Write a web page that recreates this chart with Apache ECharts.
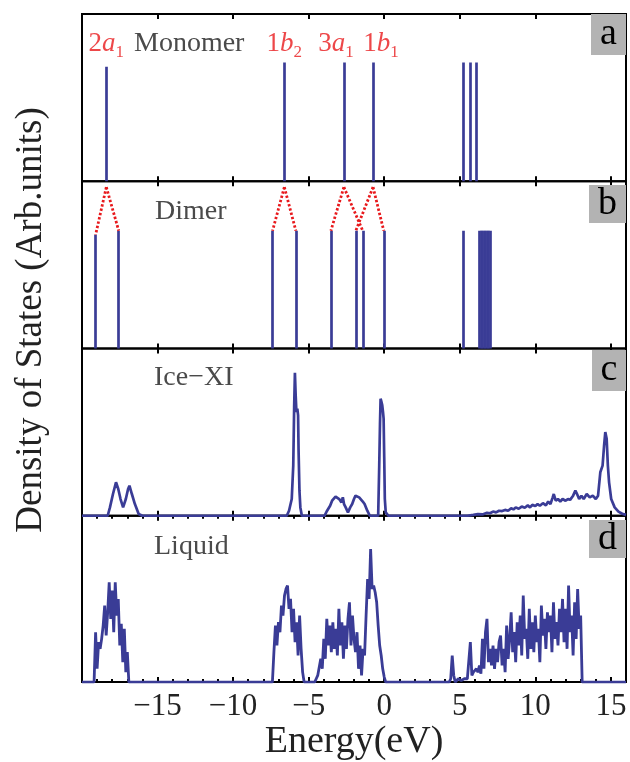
<!DOCTYPE html>
<html>
<head>
<meta charset="utf-8">
<script src="https://cdn.jsdelivr.net/npm/echarts@6/dist/echarts.min.js"></script>
<style>
  html, body { margin: 0; padding: 0; background: #fff; }
  #main { width: 630px; height: 762px; }
</style>
</head>
<body>
<div id="main"></div>
<script>
// monomer levels (eV) and stick heights
const monomerE = [-18.39, -6.61, -2.67, -0.74, 5.25, 5.66, 6.07];
const monomerH = [0.684, 0.71, 0.71, 0.71, 0.71, 0.71, 0.71];
// orbital labels of the four occupied monomer levels
const orbitalNum = ['2', '1', '3', '1'];
const orbitalSym = ['a', 'b', 'a', 'b'];
const orbitalSub = ['1', '2', '1', '1'];
// dimer levels (eV) and stick heights
const dimerE = [-19.1, -17.57, -7.39, -5.85, -3.53, -1.88, -1.42, -0.03, 5.25,
    6.28, 6.4, 6.5, 6.6, 6.7, 6.8, 6.9, 7.0];
const dimerH = [0.68, 0.704, 0.704, 0.704, 0.704, 0.704, 0.704, 0.704, 0.704,
    0.704, 0.704, 0.704, 0.704, 0.704, 0.704, 0.704, 0.704];
// which monomer level splits into which dimer levels (index pairs)
const splitFrom = [0, 0, 1, 1, 2, 2, 3, 3];
const splitTo = [0, 1, 2, 3, 4, 6, 5, 7];
const splitPeak = 0.965;

// Ice-XI DOS [energy, dos]
const iceXI = [
    [-20, 0], [-18.3, 0], [-18.15, 0.05], [-17.95, 0.13], [-17.75, 0.2], [-17.6, 0.16],
    [-17.45, 0.1], [-17.28, 0.05], [-17.1, 0.1], [-16.95, 0.16], [-16.86, 0.18], [-16.7, 0.13],
    [-16.5, 0.07], [-16.25, 0.01], [-16.0, 0],
    [-6.45, 0], [-6.3, 0.03], [-6.12, 0.1], [-6.02, 0.3], [-5.96, 0.65], [-5.91, 0.855],
    [-5.86, 0.72], [-5.81, 0.62], [-5.75, 0.64], [-5.7, 0.6], [-5.67, 0.4], [-5.61, 0.15],
    [-5.55, 0.05], [-5.45, 0],
    [-3.95, 0], [-3.78, 0.03], [-3.58, 0.06], [-3.45, 0.09], [-3.34, 0.1], [-3.22, 0.115],
    [-3.1, 0.11], [-2.98, 0.1], [-2.9, 0.11], [-2.83, 0.08], [-2.74, 0.11], [-2.66, 0.07],
    [-2.55, 0.05], [-2.4, 0.02], [-2.25, 0.05], [-2.12, 0.07], [-2.0, 0.1], [-1.9, 0.12],
    [-1.78, 0.125], [-1.66, 0.11], [-1.54, 0.1], [-1.42, 0.085], [-1.3, 0.07], [-1.12, 0.03],
    [-0.95, 0],
    [-0.4, 0], [-0.33, 0.3], [-0.28, 0.55], [-0.24, 0.7], [-0.18, 0.68], [-0.13, 0.66],
    [-0.08, 0.62], [-0.04, 0.58], [0.0, 0.35], [0.04, 0.1], [0.1, 0.02], [0.28, 0],
    [5.5, 0], [5.9, 0.005], [6.2, 0.01], [6.5, 0.008], [6.8, 0.018], [7.0, 0.015],
    [7.2, 0.025], [7.4, 0.02], [7.6, 0.03], [7.8, 0.028], [8.0, 0.035], [8.2, 0.03],
    [8.4, 0.045], [8.55, 0.038], [8.7, 0.05], [8.9, 0.042], [9.1, 0.055], [9.3, 0.048],
    [9.5, 0.062], [9.65, 0.05], [9.8, 0.065], [10.0, 0.058], [10.15, 0.07], [10.3, 0.06],
    [10.5, 0.075], [10.7, 0.062], [10.85, 0.085], [11.0, 0.07], [11.15, 0.11], [11.22, 0.13],
    [11.35, 0.09], [11.5, 0.1], [11.65, 0.085], [11.8, 0.1], [12.0, 0.09], [12.16, 0.1],
    [12.3, 0.095], [12.5, 0.12], [12.65, 0.15], [12.76, 0.13], [12.9, 0.1], [13.05, 0.12],
    [13.2, 0.1], [13.4, 0.13], [13.6, 0.11], [13.8, 0.12], [14.0, 0.1], [14.15, 0.12],
    [14.3, 0.26], [14.45, 0.3], [14.55, 0.42], [14.63, 0.5], [14.72, 0.46], [14.8, 0.3],
    [14.88, 0.2], [15.02, 0.1], [15.25, 0.05], [15.5, 0.025], [15.75, 0.012], [16, 0.005]
];

// Liquid DOS: blocks sampled every 0.1 eV from the given start energy
const liqStep = 0.1;
const liq1Start = -19.2;
const liq1 = [0.0, 0.30, 0.08, 0.24, 0.20, 0.26, 0.34, 0.46, 0.28, 0.42, 0.60, 0.38,
    0.55, 0.30, 0.60, 0.40, 0.50, 0.22, 0.35, 0.12, 0.32, 0.06, 0.18, 0.0];
const liq2Start = -7.4;
const liq2 = [0.0, 0.18, 0.34, 0.22, 0.36, 0.30, 0.46, 0.40, 0.52, 0.56, 0.58, 0.44,
    0.50, 0.30, 0.44, 0.24, 0.36, 0.16, 0.40, 0.20, 0.06, 0.0];
const liq3Start = -4.6;
const liq3 = [0.0, 0.02, 0.04, 0.03, 0.14, 0.08, 0.26, 0.14, 0.38, 0.22, 0.34, 0.18,
    0.36, 0.20, 0.32, 0.16, 0.44, 0.22, 0.36, 0.14, 0.34, 0.20, 0.38, 0.48, 0.22, 0.40,
    0.26, 0.18, 0.30, 0.08, 0.22, 0.04, 0.20, 0.16, 0.40, 0.62, 0.50, 0.80, 0.56, 0.58,
    0.54, 0.48, 0.34, 0.22, 0.16, 0.08, 0.03, 0.0];
const liq4Start = 4.3;
const liq4 = [0.0, 0.02, 0.16, 0.04, 0.0, 0.01, 0.02, 0.02, 0.01, 0.02, 0.02, 0.01, 0.02,
    0.02, 0.24, 0.04, 0.06, 0.05, 0.08, 0.06, 0.10, 0.05, 0.26, 0.08, 0.30, 0.38, 0.12,
    0.20, 0.10, 0.22, 0.08, 0.20, 0.12, 0.24, 0.28, 0.10, 0.20, 0.06, 0.34, 0.14, 0.26,
    0.42, 0.18, 0.30, 0.12, 0.36, 0.22, 0.40, 0.16, 0.52, 0.26, 0.32, 0.14, 0.44, 0.20,
    0.36, 0.18, 0.40, 0.24, 0.32, 0.12, 0.46, 0.28, 0.38, 0.20, 0.42, 0.30, 0.40, 0.18,
    0.48, 0.26, 0.36, 0.22, 0.44, 0.30, 0.50, 0.24, 0.44, 0.20, 0.58, 0.30, 0.40, 0.16,
    0.48, 0.26, 0.56, 0.32, 0.40, 0.0];

const panelNames = ['Monomer', 'Dimer', 'Ice\u2212XI', 'Liquid'];
const panelTags = ['a', 'b', 'c', 'd'];

const BLUE = '#3a3c96';
const RED = '#e8191c';
const FONT = '"Liberation Serif", "DejaVu Serif", serif';

function blockPairs(start, vals) {
    return vals.map((v, i) => [+(start + i * liqStep).toFixed(2), v]);
}
const liquid = [[-20, 0]]
    .concat(blockPairs(liq1Start, liq1), blockPairs(liq2Start, liq2),
        blockPairs(liq3Start, liq3), blockPairs(liq4Start, liq4), [[16, 0]]);

function sticks(es, hs) {
    return es.map((e, i) => ({ coords: [[e, 0], [e, hs[i]]] }));
}
const splitLines = splitFrom.map((m, k) => ({
    coords: [[monomerE[m], splitPeak], [dimerE[splitTo[k]], dimerH[splitTo[k]]]]
}));

const labelShift = [0, 0, -8, 8];
const orbitalLabels = orbitalNum.map((n, i) => ({
    value: [monomerE[i], 0.82],
    label: {
        offset: [labelShift[i], 0],
        formatter: `{n|${n}}{i|${orbitalSym[i]}}{s|${orbitalSub[i]}}`
    }
}));

let myChart = echarts.init(document.getElementById('main'), null, { renderer: 'canvas' });

const top0 = 14, ph = 167.25;
let grids = [], xAxes = [], yAxes = [];
for (let i = 0; i < 4; i++) {
    grids.push({
        left: 82, width: 544, top: top0 + i * ph, height: ph,
        show: true, borderColor: '#000', borderWidth: 2
    });
    let minor = i === 3;
    ['bottom', 'top'].forEach(pos => {
        let last = i === 3 && pos === 'bottom';
        xAxes.push({
            type: 'value', gridIndex: i, position: pos,
            min: -20, max: 16, interval: 5,
            axisLine: { show: false },
            axisTick: { show: true, inside: true, length: 5, lineStyle: { color: '#000', width: 2 } },
            minorTick: { show: minor, splitNumber: 5, length: 3, lineStyle: { color: '#000', width: 2 } },
            splitLine: { show: false },
            axisLabel: {
                show: last, margin: 9, showMinLabel: false, showMaxLabel: false,
                fontFamily: FONT, fontSize: 31, color: '#222',
                formatter: v => v < 0 ? '\u2212' + Math.abs(v) : String(v)
            },
            name: last ? 'Energy(eV)' : '',
            nameLocation: 'middle', nameGap: 40,
            nameTextStyle: { fontFamily: FONT, fontSize: 38, color: '#222' }
        });
    });
    yAxes.push({ type: 'value', gridIndex: i, min: 0, max: 1, show: false });
}

let graphics = [{
    type: 'text', x: 31, y: 320, rotation: Math.PI / 2,
    style: { text: 'Density of States (Arb.units)', font: '37px ' + FONT, fill: '#222',
        align: 'center', verticalAlign: 'middle' }
}];
const nameLeft = [134, 155, 154, 154];
const nameMid = [44, 212, 378, 547];
const tagBox = [[591, 14, 35, 41], [589, 185, 37, 38], [592, 350, 34, 41], [589, 520, 37, 38]];
for (let i = 0; i < 4; i++) {
    graphics.push({
        type: 'text', x: nameLeft[i], y: nameMid[i],
        style: { text: panelNames[i], font: '28px ' + FONT, fill: '#4a4a4a', align: 'left', verticalAlign: 'middle' }
    });
    let b = tagBox[i];
    graphics.push({
        type: 'rect', shape: { x: b[0], y: b[1], width: b[2], height: b[3] },
        style: { fill: '#b3b3b3' }, z: 10
    });
    graphics.push({
        type: 'text', x: b[0] + b[2] / 2, y: b[1] + b[3] / 2, z: 11,
        style: { text: panelTags[i], font: '38px ' + FONT, fill: '#000', align: 'center', verticalAlign: 'middle' }
    });
}

const redText = { fontFamily: FONT, fontSize: 27, color: RED, verticalAlign: 'middle', lineHeight: 34 };

let option = {
    animation: false,
    backgroundColor: '#fff',
    grid: grids,
    xAxis: xAxes,
    yAxis: yAxes,
    graphic: graphics,
    series: [
        {
            type: 'lines', coordinateSystem: 'cartesian2d', xAxisIndex: 0, yAxisIndex: 0,
            lineStyle: { color: BLUE, width: 2.7, opacity: 1 },
            data: sticks(monomerE, monomerH)
        },
        {
            type: 'scatter', xAxisIndex: 0, yAxisIndex: 0, symbolSize: 0,
            label: {
                show: true, position: 'inside',
                rich: {
                    n: redText,
                    i: Object.assign({}, redText, { fontStyle: 'italic' }),
                    s: { fontFamily: FONT, fontSize: 17, color: RED, verticalAlign: 'bottom', lineHeight: 34 }
                }
            },
            data: orbitalLabels
        },
        {
            type: 'lines', coordinateSystem: 'cartesian2d', xAxisIndex: 2, yAxisIndex: 1,
            lineStyle: { color: BLUE, width: 2.7, opacity: 1 },
            data: sticks(dimerE, dimerH)
        },
        {
            type: 'lines', coordinateSystem: 'cartesian2d', xAxisIndex: 2, yAxisIndex: 1,
            lineStyle: { color: RED, width: 2.8, opacity: 1, type: [2.4, 2] },
            data: splitLines, z: 3
        },
        {
            type: 'line', xAxisIndex: 4, yAxisIndex: 2, showSymbol: false,
            lineStyle: { color: BLUE, width: 2.7 },
            data: iceXI
        },
        {
            type: 'line', xAxisIndex: 6, yAxisIndex: 3, showSymbol: false,
            lineStyle: { color: BLUE, width: 2.8 },
            data: liquid
        }
    ]
};
myChart.setOption(option);
</script>
</body>
</html>
